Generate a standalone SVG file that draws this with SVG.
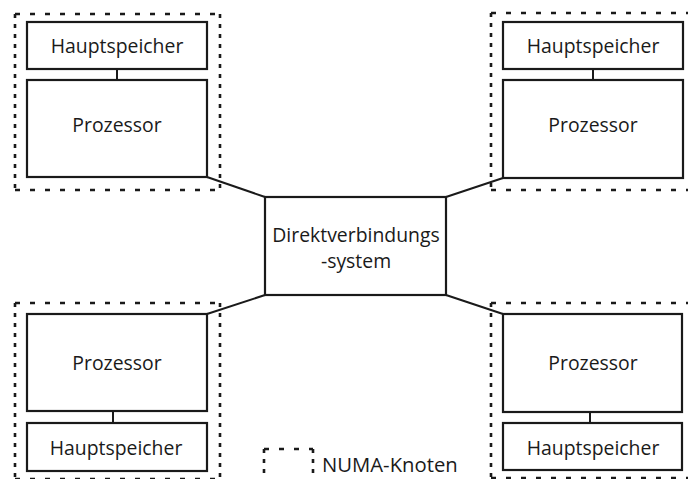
<svg xmlns="http://www.w3.org/2000/svg" width="688" height="479" viewBox="0 0 688 479">
<style>
.box{fill:#fff;stroke:#1a1a1a;stroke-width:2.2}
.h{fill:none;stroke:#1a1a1a;stroke-width:2.6;stroke-dasharray:5 10}
.v{fill:none;stroke:#1a1a1a;stroke-width:2.6;stroke-dasharray:4 6}
.ln{stroke:#1a1a1a;stroke-width:2;fill:none}
text{font-family:"Open Sans","Liberation Sans",sans-serif;font-size:19.4px;fill:#1a1a1a;text-anchor:middle}
</style>
<rect width="688" height="479" fill="#fff"/>
<g id="numa-tl"><path class="h" d="M15 14H220M15 190H220"/><path class="v" d="M15 14V190M220 14V190"/></g>
<g id="numa-tr"><path class="h" d="M491 13H700M491 190H700"/><path class="v" d="M491 13V190"/></g>
<g id="numa-bl"><path class="h" d="M15 303H220M15 479H220"/><path class="v" d="M15 303V479M220 303V479"/></g>
<g id="numa-br"><path class="h" d="M491 303H700M491 478H700"/><path class="v" d="M491 303V478"/></g>
<g id="connectors">
<line class="ln" x1="117" y1="69" x2="117" y2="80"/>
<line class="ln" x1="593" y1="69" x2="593" y2="80"/>
<line class="ln" x1="113" y1="411" x2="113" y2="423"/>
<line class="ln" x1="590" y1="412" x2="590" y2="423"/>
<line class="ln" x1="207" y1="177" x2="265" y2="197"/>
<line class="ln" x1="503" y1="178" x2="446" y2="197"/>
<line class="ln" x1="207" y1="314" x2="265" y2="295"/>
<line class="ln" x1="503" y1="314" x2="446" y2="295"/>
</g>
<g id="mem-tl"><rect class="box" x="27" y="22" width="180" height="47"/><text x="117" y="53">Hauptspeicher</text></g>
<g id="cpu-tl"><rect class="box" x="27" y="80" width="180" height="97"/><text x="117" y="132">Prozessor</text></g>
<g id="mem-tr"><rect class="box" x="503" y="22" width="180" height="47"/><text x="593" y="53">Hauptspeicher</text></g>
<g id="cpu-tr"><rect class="box" x="503" y="80" width="180" height="98"/><text x="593" y="132">Prozessor</text></g>
<g id="cpu-bl"><rect class="box" x="27" y="314" width="180" height="97"/><text x="117" y="370">Prozessor</text></g>
<g id="mem-bl"><rect class="box" x="27" y="423" width="180" height="48"/><text x="116" y="455">Hauptspeicher</text></g>
<g id="cpu-br"><rect class="box" x="503" y="314" width="179" height="98"/><text x="593" y="370">Prozessor</text></g>
<g id="mem-br"><rect class="box" x="503" y="423" width="179" height="47"/><text x="593" y="455">Hauptspeicher</text></g>
<g id="interconnect"><rect class="box" x="265" y="197" width="181" height="98"/><text x="356" y="242">Direktverbindungs</text><text x="356" y="268">-system</text></g>
<g id="legend"><path class="h" d="M264 449H313"/><path class="v" d="M264 449V479M313 449V479"/><text x="322" y="472" style="text-anchor:start;font-size:20.3px">NUMA-Knoten</text></g>
</svg>
